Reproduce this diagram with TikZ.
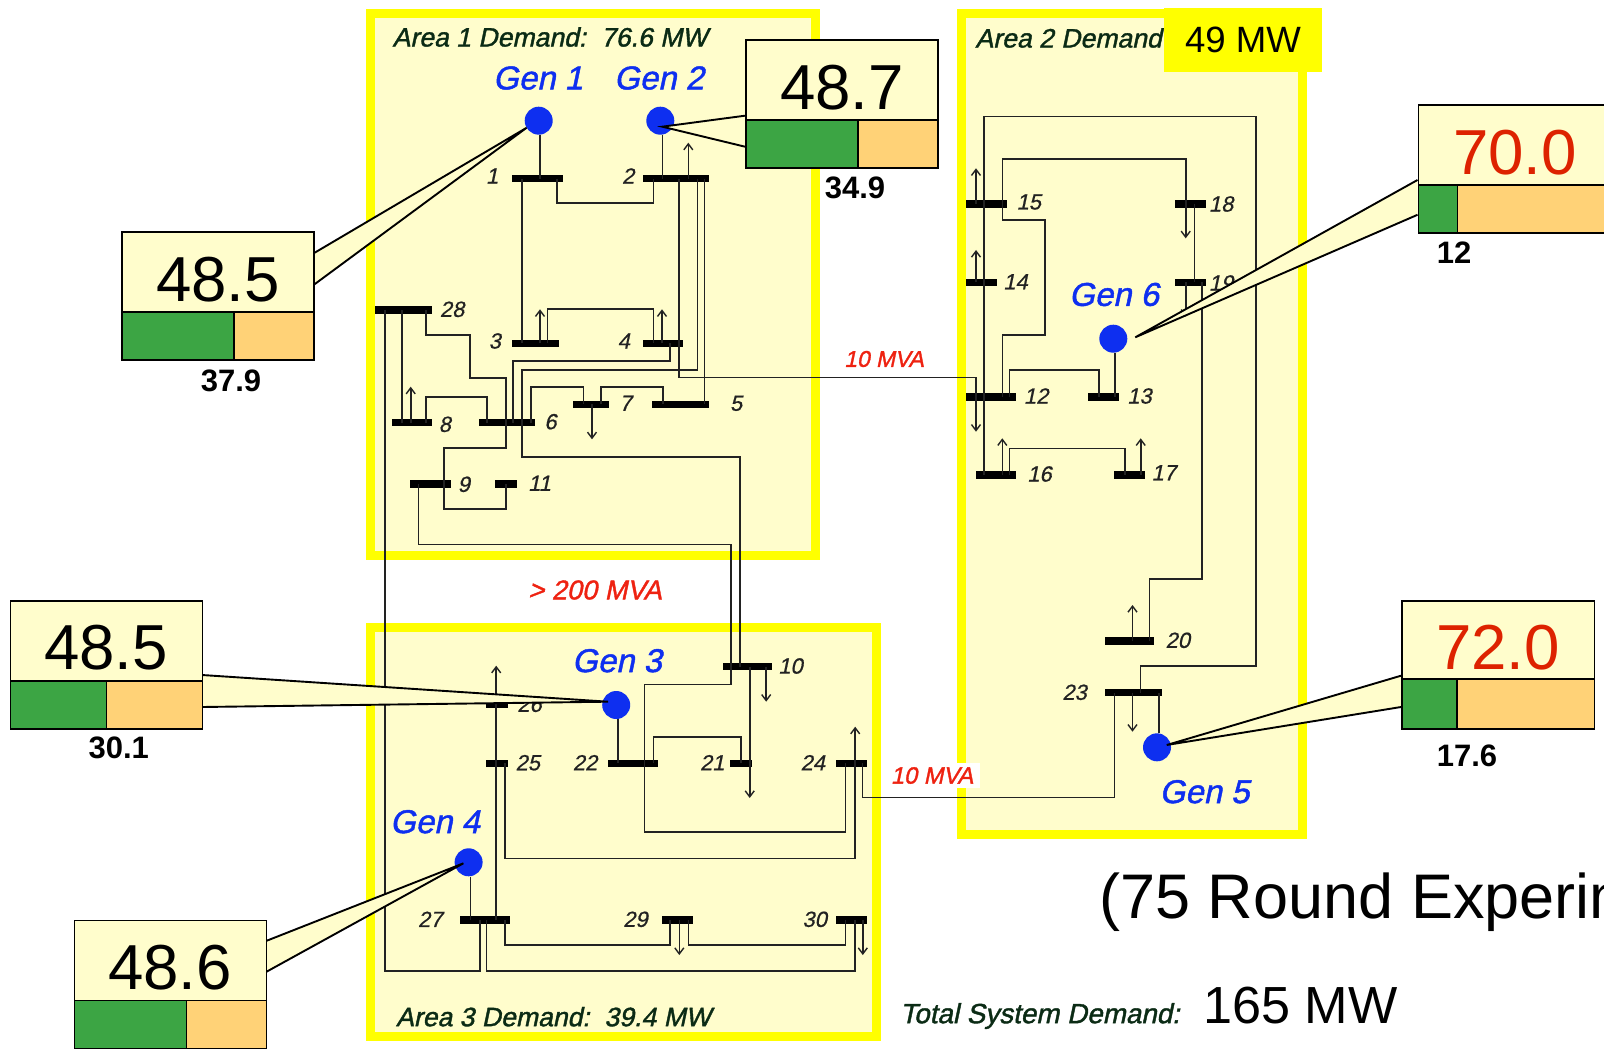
\documentclass[tikz,border=0pt]{standalone}
\usepackage{fontspec}
\setmainfont{Liberation Sans}
\newfontfamily\hit[FakeBold=1.4,FakeSlant=0.21]{Liberation Sans}
\newfontfamily\hitl[FakeBold=0.7,FakeSlant=0.21]{Liberation Sans}
\usetikzlibrary{arrows.meta,calc}
\definecolor{areafill}{HTML}{FFFDCC}
\definecolor{areaedge}{HTML}{FFFF00}
\definecolor{genblue}{HTML}{0E2FF0}
\definecolor{barg}{HTML}{3CA544}
\definecolor{baro}{HTML}{FFD277}
\definecolor{hotred}{HTML}{DD2200}
\definecolor{mvared}{HTML}{EE2211}
\definecolor{dk}{HTML}{222222}
\definecolor{areatext}{HTML}{0B2B15}
\newcommand\fpx[1]{\fontsize{#1}{#1}\selectfont}
\tikzset{
  area/.style={draw=areaedge,fill=areafill,line width=4.5pt,line join=miter},
  wire/.style={draw=dk,line width=0.8pt},
  thinwire/.style={draw=dk,line width=0.6pt},
  loadarrow/.style={draw=dk,line width=0.8pt,-{Straight Barb[length=3pt,width=4.5pt,line width=0.7pt]}},
  busbar/.style={fill=black,inner sep=0pt,minimum height=3.6pt,draw=none,rectangle},
  gennode/.style={circle,fill=genblue,inner sep=0pt,minimum size=14pt,draw=none},
  busnum/.style={font=\hitl\fpx{11},text=dk,inner sep=0pt},
  genlabel/.style={font=\hit\fpx{16.5},text=genblue,inner sep=0pt},
  arealabel/.style={font=\hit\fpx{13.3},text=areatext,inner sep=0pt},
  mvalabel/.style={font=\hit\fpx{11.4},text=mvared,inner sep=0pt},
  bottomval/.style={font=\bfseries\fpx{15.5},text=black,inner sep=0pt},
  boxline/.style={draw=black,line width=0.85pt},
  tail/.style={draw=black,line width=0.95pt,line join=miter},
}
\newcommand\bus[4]{\node[busbar,minimum width={(#3-#2)*0.5pt}] (#1) at ({(#2+#3)/2},#4) {};}
\newcommand\bnum[3]{\node[busnum] (n#1) at ({#2-1.2},#3) {#1};}
\newcommand\loadto[4]{\coordinate (#1) at (#3,#4); \draw[loadarrow] (#2 -| #1) -- (#1);}
\newcommand\callout[9]{%
  \coordinate (tip#1) at (#9);
  \coordinate (ta#1) at (#8);
  \coordinate (tb#1) at (#7);
  \fill[areafill] (ta#1) -- (tip#1) -- (tb#1) -- cycle;
  \draw[tail] (ta#1) -- (tip#1) -- (tb#1);
  \node[boxline,fill=areafill,inner sep=0pt,anchor=north west,minimum width={(#4)*0.5pt},minimum height={(#5)*0.5pt}] (box#1) at (#2,#3) {};
}
\begin{document}
\begin{tikzpicture}[x=0.5pt,y=-0.5pt]
\useasboundingbox (0,0) rectangle (1604,1053);
\clip (0,0) rectangle (1604,1053);
% areas
\draw[area] (370.5,13.5) rectangle (815.5,555);
\draw[area] (370.5,627.5) rectangle (876,1036);
\draw[area] (961.5,13.5) rectangle (1302,834);
% buses
\bus{b1}{511.7}{563.3}{178.7}
\bus{b2}{643}{709.3}{178.7}
\bus{b3}{511.7}{559.3}{343.3}
\bus{b4}{643}{683.3}{343.3}
\bus{b5}{652.3}{709.3}{404.3}
\bus{b6}{478.7}{535.3}{422.7}
\bus{b7}{572.7}{609.3}{404.3}
\bus{b8}{391.7}{432}{422.7}
\bus{b9}{410}{450.7}{484}
\bus{b10}{723}{772.4}{666.7}
\bus{b11}{495.3}{517.3}{484}
\bus{b12}{966}{1015.7}{397}
\bus{b13}{1088.3}{1119.3}{397}
\bus{b14}{966}{997.3}{282.3}
\bus{b15}{966}{1006.7}{204}
\bus{b16}{975.7}{1015.7}{475}
\bus{b17}{1114}{1145.3}{475}
\bus{b18}{1175.3}{1206.3}{204}
\bus{b19}{1175.3}{1206.3}{282.3}
\bus{b20}{1105}{1154.2}{641}
\bus{b21}{730}{752}{763.3}
\bus{b22}{608.3}{657.6}{763.3}
\bus{b23}{1105}{1161.7}{692.7}
\bus{b24}{835.9}{866.9}{763.3}
\bus{b25}{486.2}{508.3}{763.3}
\bus{b26}{486.2}{508.3}{704.3}
\bus{b27}{460}{510}{920}
\bus{b28}{375}{432}{310}
\bus{b29}{662}{693}{920}
\bus{b30}{835.9}{866.9}{920}
% generators
\node[gennode] (g1) at (538.7,120.7) {};
\node[gennode] (g2) at (660.3,120.7) {};
\node[gennode] (g3) at (616.2,705) {};
\node[gennode] (g4) at (468.6,862.3) {};
\node[gennode] (g5) at (1157,747.3) {};
\node[gennode] (g6) at (1113.3,338.7) {};
% wires: generators
\draw[wire] (g1.south -| 540,0) -- (b1 -| 540,0);
\draw[wire] (g2.south -| 662.3,0) -- (b2 -| 662.3,0);
\draw[wire] (g3.south -| 618,0) -- (b22 -| 618,0);
\draw[wire] (g4.south -| 470.3,0) -- (b27 -| 470.3,0);
\draw[wire] (g6.south -| 1114.7,0) -- (b13 -| 1114.7,0);
\draw[wire] (b23 -| 1159,0) -- (g5.north -| 1159,0);
% wires: area 1
\draw[wire] (b1 -| 556.7,0) -- (556.7,203.3) -- (653.3,203.3) -- (b2 -| 653.3,0);
\draw[wire] (b1 -| 522,0) -- (b3 -| 522,0);
\draw[wire] (b3 -| 547.3,0) -- (547.3,309.3) -- (653.3,309.3) -- (b4 -| 653.3,0);
\draw[thinwire] (b2 -| 679,0) -- (679,377.7) -- (976,377.7) -- (b12 -| 976,0);
\draw[wire] (b2 -| 697.3,0) -- (697.3,370) -- (522,370) -- (522,456.7) -- (740,456.7) -- (b10 -| 740,0);
\draw[wire] (b2 -| 704.3,0) -- (b5 -| 704.3,0);
\draw[wire] (b4 -| 670,0) -- (670,360.7) -- (512.7,360.7) -- (b6 -| 512.7,0);
\draw[wire] (b28 -| 385,0) -- (385,971) -- (479.7,971) -- (b27 -| 479.7,0);
\draw[wire] (b28 -| 401.7,0) -- (b8 -| 401.7,0);
\draw[wire] (b28 -| 425.7,0) -- (425.7,335) -- (470,335) -- (470,377.7) -- (505.7,377.7) -- (b6 -| 505.7,0);
\draw[wire] (b6 -| 505.7,0) -- (505.7,447.7) -- (444,447.7) -- (b9 -| 444,0);
\draw[wire] (b9 -| 444,0) -- (444,508.7) -- (505.7,508.7) -- (b11 -| 505.7,0);
\draw[wire] (b8 -| 425.7,0) -- (425.7,396.7) -- (486.7,396.7) -- (b6 -| 486.7,0);
\draw[wire] (b6 -| 531,0) -- (531,386.7) -- (583.3,386.7) -- (b7 -| 583.3,0);
\draw[wire] (b7 -| 600.7,0) -- (600.7,386.7) -- (662.7,386.7) -- (b5 -| 662.7,0);
\draw[wire] (b9 -| 418.3,0) -- (418.3,544.3) -- (730.7,544.3) -- (b10 -| 730.7,0);
% wires: area 3
\draw[wire] (b10 -| 731,0) -- (731,684.3) -- (644.5,684.3) -- (644.5,832) -- (845.5,832) -- (b24 -| 845.5,0);
\draw[wire] (b22 -| 653.4,0) -- (653.4,736.7) -- (740.7,736.7) -- (b21 -| 740.7,0);
\draw[wire] (b10 -| 749.7,0) -- (b21 -| 749.7,0);
\draw[thinwire] (b24 -| 862.8,0) -- (862.8,797.3) -- (1114.6,797.3) -- (b23 -| 1114.6,0);
\draw[wire] (b25 -| 505.2,0) -- (505.2,858.3) -- (855.2,858.3) -- (b24 -| 855.2,0);
\draw[wire] (b27 -| 496.2,0) -- (b25 -| 496.2,0);
\draw[wire] (b27 -| 505.2,0) -- (505.2,945) -- (670,945) -- (b29 -| 670,0);
\draw[wire] (b29 -| 688.6,0) -- (688.6,945) -- (845.5,945) -- (b30 -| 845.5,0);
\draw[wire] (b27 -| 486.6,0) -- (486.6,971) -- (855.2,971) -- (b30 -| 855.2,0);
% wires: area 2
\draw[wire] (b16 -| 983.7,0) -- (983.7,116.7) -- (1255.7,116.7) -- (1255.7,666) -- (1140.4,666) -- (b23 -| 1140.4,0);
\draw[wire] (b15 -| 1002.3,0) -- (1002.3,159.3) -- (1185.7,159.3) -- (b18 -| 1185.7,0);
\draw[wire] (b15 -| 1002.3,0) -- (1002.3,220) -- (1045,220) -- (1045,335) -- (1002.3,335) -- (b12 -| 1002.3,0);
\draw[wire] (b12 -| 1009.3,0) -- (1009.3,370) -- (1099,370) -- (b13 -| 1099,0);
\draw[wire] (b18 -| 1194.3,0) -- (b19 -| 1194.3,0);
\draw[wire] (b19 -| 1201.7,0) -- (1201.7,579) -- (1149.6,579) -- (b20 -| 1149.6,0);
\draw[wire] (b16 -| 1009.3,0) -- (1009.3,448.3) -- (1124.7,448.3) -- (b17 -| 1124.7,0);
% loads
\loadto{La}{b2}{688.3}{142.7}
\loadto{Lb}{b3}{540}{309.3}
\loadto{Lc}{b4}{662}{309.3}
\loadto{Ld}{b8}{410.7}{386.7}
\loadto{Le}{b7}{592}{439.3}
\loadto{Lf}{b10}{766.2}{701.7}
\loadto{Lg}{b21}{749.7}{798}
\loadto{Lh}{b24}{855.2}{726.7}
\loadto{Li}{b25}{496.2}{665.7}
\loadto{Lj}{b29}{679.3}{955}
\loadto{Lk}{b30}{862.8}{955}
\loadto{Ll}{b15}{976}{168.3}
\loadto{Lm}{b14}{976}{250}
\loadto{Ln}{b12}{976}{431.7}
\loadto{Lo}{b16}{1002.3}{438.3}
\loadto{Lp}{b17}{1140.7}{438.3}
\loadto{Lq}{b18}{1185.7}{238.3}
\loadto{Lr}{b19}{1185.7}{316.7}
\loadto{Ls}{b20}{1132.5}{605}
\loadto{Lt}{b23}{1132.5}{731.7}
% bus numbers
\bnum{1}{493.3}{176} \bnum{2}{629.3}{176} \bnum{3}{496}{341} \bnum{4}{625}{341}
\bnum{5}{737.3}{403.3} \bnum{6}{551.7}{421.7} \bnum{7}{626.7}{403.3} \bnum{8}{446}{424.3}
\bnum{9}{465}{484.3} \bnum{10}{791.7}{666} \bnum{11}{540.7}{483.3} \bnum{12}{1037.3}{396}
\bnum{13}{1140.7}{396} \bnum{14}{1016.7}{281.7} \bnum{15}{1030}{202} \bnum{16}{1040.7}{474}
\bnum{17}{1165}{472.7} \bnum{18}{1222.3}{204} \bnum{19}{1222.3}{283} \bnum{20}{1179}{640.3}
\bnum{21}{713.4}{762.7} \bnum{22}{586.2}{762.7} \bnum{23}{1075.8}{692.3} \bnum{24}{814}{762.7}
\bnum{25}{529}{762.7} \bnum{26}{530.7}{704.3} \bnum{27}{431.4}{919.3} \bnum{28}{453.3}{309.3}
\bnum{29}{636.6}{919.3} \bnum{30}{815.9}{919.3}
% generator labels
\node[genlabel] (lg1) at (538,78) {Gen 1};
\node[genlabel] (lg2) at (659,78) {Gen 2};
\node[genlabel] (lg3) at (617,660.7) {Gen 3};
\node[genlabel] (lg4) at (435,821.7) {Gen 4};
\node[genlabel] (lg5) at (1204.5,791.7) {Gen 5};
\node[genlabel] (lg6) at (1114,294.5) {Gen 6};
% area texts
\node[arealabel] (a1t) at (550,37) {Area 1 Demand:\ \ 76.6 MW};
\node[arealabel,anchor=west] (a2t) at (975,38) {Area 2 Demand};
\node[arealabel] (a3t) at (553.5,1016.7) {Area 3 Demand:\ \ 39.4 MW};
\node[fill=areaedge,inner sep=0pt,minimum width=79pt,minimum height=32pt,font=\fpx{18.3},text=black] (a2v) at (1243,40) {49 MW};
% flow labels
\node[mvalabel] (m1) at (884,359) {10 MVA};
\node[mvalabel,font=\hit\fpx{13.6}] (m2) at (595,590) {> 200 MVA};
\node[fill=white,inner sep=0pt,minimum width=48pt,minimum height=12.5pt,font=\hit\fpx{11.8},text=mvared] (m3) at (932,775.5) {10 MVA};
% bottom texts
\node[font=\fpx{31.5},text=black,inner sep=0pt,anchor=west] (exp) at (1099,902) {(75 Round Experim};
\node[arealabel,font=\hit\fpx{13.9}] (tot) at (1040,1016) {Total System Demand:};
\node[font=\fpx{26.1},text=black,inner sep=0pt] (tmw) at (1300.5,1005.6) {165 MW};
% callouts
\callout{A}{121}{231}{192}{80}{}{313,285.4}{313,253.7}{526.7,127.7}
\node[inner sep=0pt,font=\fpx{31.8},text=black] (vA) at (218,280) {48.5};
\node[boxline,fill=baro,inner sep=0pt,anchor=north west,minimum width=96pt,minimum height=24pt] (oA) at (121,311) {};
\node[boxline,fill=barg,inner sep=0pt,anchor=north west,minimum width=56pt,minimum height=24pt] (gA) at (121,311) {};
\node[bottomval] (uA) at (231,380.6) {37.9};
\callout{B}{745}{39.5}{192}{80}{}{745,146.7}{745,115.7}{662.3,126.7}
\node[inner sep=0pt,font=\fpx{31.8},text=black] (vB) at (842,88) {48.7};
\node[boxline,fill=baro,inner sep=0pt,anchor=north west,minimum width=96pt,minimum height=24pt] (oB) at (745,119.5) {};
\node[boxline,fill=barg,inner sep=0pt,anchor=north west,minimum width=56pt,minimum height=24pt] (gB) at (745,119.5) {};
\node[bottomval] (uB) at (855,188) {34.9};
\callout{C}{9.5}{600}{192}{80}{}{202,707}{202,675}{608,701.7}
\node[inner sep=0pt,font=\fpx{31.8},text=black] (vC) at (106,648) {48.5};
\node[boxline,fill=baro,inner sep=0pt,anchor=north west,minimum width=96pt,minimum height=24pt] (oC) at (9.5,680) {};
\node[boxline,fill=barg,inner sep=0pt,anchor=north west,minimum width=48pt,minimum height=24pt] (gC) at (9.5,680) {};
\node[bottomval] (uC) at (118.7,748) {30.1};
\callout{D}{73.7}{919.7}{192}{80}{}{266,972}{266,941}{463.4,863.3}
\node[inner sep=0pt,font=\fpx{31.8},text=black] (vD) at (170,968) {48.6};
\node[boxline,fill=baro,inner sep=0pt,anchor=north west,minimum width=96pt,minimum height=24pt] (oD) at (73.7,999.5) {};
\node[boxline,fill=barg,inner sep=0pt,anchor=north west,minimum width=56pt,minimum height=24pt] (gD) at (73.7,999.5) {};
\callout{E}{1417.5}{104}{192}{80}{}{1417.5,214.8}{1417.5,180}{1135.3,337.3}
\node[inner sep=0pt,font=\fpx{31.8},text=hotred] (vE) at (1515,153) {70.0};
\node[boxline,fill=baro,inner sep=0pt,anchor=north west,minimum width=96pt,minimum height=24pt] (oE) at (1417.5,184) {};
\node[boxline,fill=barg,inner sep=0pt,anchor=north west,minimum width=19.5pt,minimum height=24pt] (gE) at (1417.5,184) {};
\node[bottomval] (uE) at (1454,252.7) {12};
\callout{F}{1401}{600}{192.5}{79}{}{1401,707}{1401,675.7}{1166.7,745}
\node[inner sep=0pt,font=\fpx{31.8},text=hotred] (vF) at (1498,648) {72.0};
\node[boxline,fill=baro,inner sep=0pt,anchor=north west,minimum width=96.25pt,minimum height=25pt] (oF) at (1401,678) {};
\node[boxline,fill=barg,inner sep=0pt,anchor=north west,minimum width=27.5pt,minimum height=25pt] (gF) at (1401,678) {};
\node[bottomval] (uF) at (1467,755.7) {17.6};
\end{tikzpicture}
\end{document}
